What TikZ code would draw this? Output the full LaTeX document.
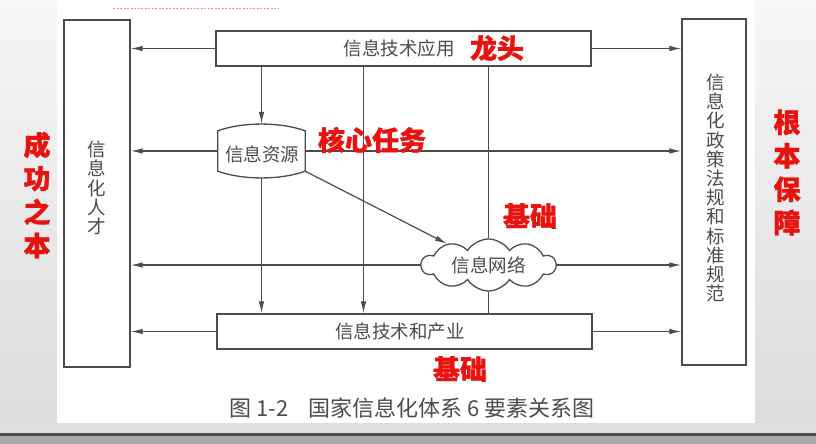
\documentclass[tikz,border=0pt]{standalone}
\usepackage{fontspec}
\newfontfamily\cjk{Noto Sans CJK SC}
\newfontfamily\cjkhl{Noto Sans CJK SC}[BoldFeatures={FakeBold=1.2}]
\usetikzlibrary{arrows.meta,shapes.symbols}
\definecolor{ink}{HTML}{4C4C4C}
\definecolor{lbl}{HTML}{E8120F}
\definecolor{bgtop}{HTML}{F7F7F7}
\definecolor{bgbot}{HTML}{DCDCDC}
\definecolor{band}{HTML}{DEDEDE}
\definecolor{bandline}{HTML}{4A4A4A}
\definecolor{bandlow}{HTML}{A9A9A9}
\definecolor{pinkdash}{HTML}{EB9696}
\begin{document}
\begin{tikzpicture}[x=1pt,y=-1pt,
  box/.style={draw=ink, line width=1.3pt, fill=white, inner sep=0pt},
  conn/.style={draw=ink, line width=1.2pt},
  arr/.style={conn, -{Latex[length=12pt,width=5.5pt]}},
  txt/.style={font=\cjk\fontsize{18.5}{19.2}\selectfont, text=ink, inner sep=0pt},
  vtxt/.style={txt, align=center},
  hl/.style={font=\cjkhl\bfseries\fontsize{27}{33.5}\selectfont, text=lbl, inner sep=0pt, align=center}]
\useasboundingbox (0,0) rectangle (816,444);
% background
\shade[top color=bgtop, bottom color=bgbot] (0,0) rectangle (816,423);
\fill[white] (57,0) rectangle (755,423);
\fill[band] (0,423) rectangle (816,433);
\fill[bandline] (0,433) rectangle (816,435.5);
\fill[bandlow] (0,435.5) rectangle (816,444);
\draw[pinkdash, line width=0.6pt, dash pattern=on 2pt off 1.5pt] (113,8) -- (279,8);

% boxes
\node[box, minimum width=66pt, minimum height=347pt] (talent) at (97,193.5) {};
\node[vtxt] (talentT) at (97,188) {信\\息\\化\\人\\才};
\node[box, minimum width=64pt, minimum height=346pt] (policy) at (714,192) {};
\node[vtxt] (policyT) at (716,188) {信\\息\\化\\政\\策\\法\\规\\和\\标\\准\\规\\范};
\node[box, minimum width=375pt, minimum height=35pt] (app) at (403.5,48.5) {};
\node[txt] (appT) at (399,48.5) {信息技术应用};
\node[box, minimum width=375pt, minimum height=35pt] (bot) at (404.5,331.5) {};
\node[txt] (botT) at (400,331.5) {信息技术和产业};

% drum (信息资源)
\node[minimum width=87pt, minimum height=54pt, inner sep=0pt] (cyl) at (261.5,151) {};
\draw[conn, line width=1.3pt, fill=white] ([yshift=-7pt]cyl.north west) .. controls +(25,-9) and +(-25,-9) .. ([yshift=-7pt]cyl.north east)
  -- ([yshift=7pt]cyl.south east) .. controls +(-25,9) and +(25,9) .. ([yshift=7pt]cyl.south west) -- cycle;
\node[txt] (cylT) at (262,154) {信息资源};

% cloud (信息网络)
\node[cloud, draw=ink, line width=1.3pt, fill=white, cloud puffs=10, cloud puff arc=115, cloud ignores aspect,
  minimum width=134pt, minimum height=52pt, inner sep=0pt, txt] (net) at (488.5,265) {信息网络};

% vertical connectors
\draw[arr] (app.south -| cyl.north) -- (cyl.north);
\draw[arr] (cyl.south) -- (cyl.south |- bot.north);
\coordinate (v2) at (363.5,0);
\draw[arr] (app.south -| v2) -- (bot.north -| v2);
\draw[conn] (app.south -| net.north) -- (net.north);
\draw[conn] (net.south) -- (bot.north -| net.south);
\draw[arr] ([yshift=7pt]cyl.south east) -- (net);

% horizontal connectors
\draw[arr] (app.west) -- (app.west -| talent.east);
\draw[arr] (app.east) -- (app.east -| policy.west);
\draw[arr] (cyl.west) -- (cyl.west -| talent.east);
\draw[arr] (cyl.east) -- (cyl.east -| policy.west);
\draw[arr] (net.west) -- (net.west -| talent.east);
\draw[arr] (net.east) -- (net.east -| policy.west);
\draw[arr] (bot.west) -- (bot.west -| talent.east);
\draw[arr] (bot.east) -- (bot.east -| policy.west);

% caption
\node[txt, font=\cjk\fontsize{22}{22}\selectfont] (cap) at (412,408) {图 1-2\hspace{20pt}国家信息化体系 6 要素关系图};

% red labels
\node[hl] (l1) at (497,48) {龙头};
\node[hl] (l2) at (372,140) {核心任务};
\node[hl] (l3) at (530,216) {基础};
\node[hl] (l4) at (460,369) {基础};
\node[hl] (l5) at (37,195) {成\\功\\之\\本};
\node[hl] (l6) at (787,172.5) {根\\本\\保\\障};
\end{tikzpicture}
\end{document}
